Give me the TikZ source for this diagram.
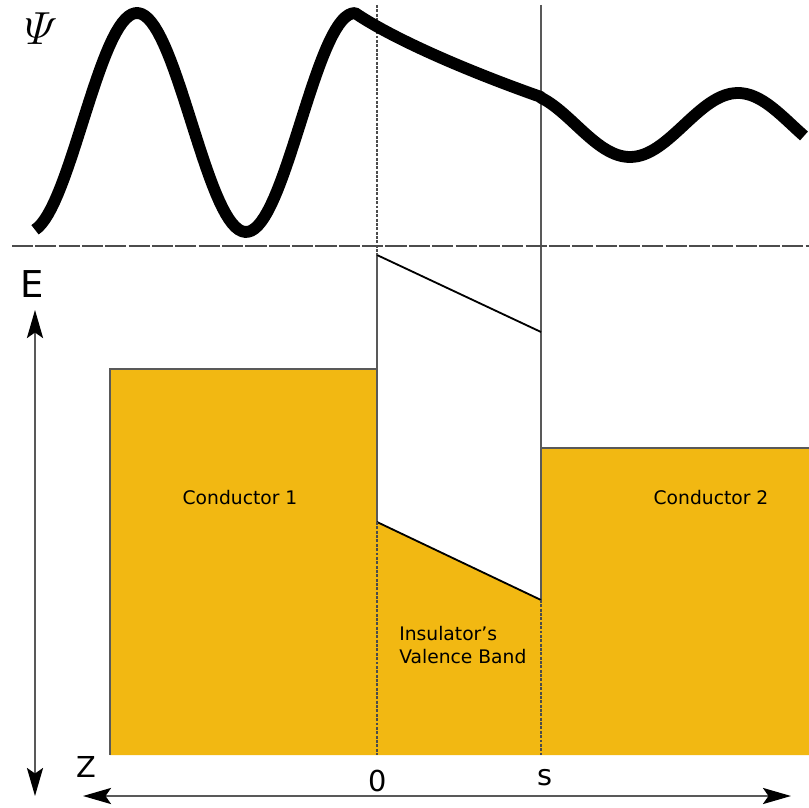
\documentclass[tikz,border=0pt]{standalone}
\usepackage{fix-cm}
\usepackage[no-math]{fontspec}
\usepackage{amsmath}
\setmainfont{DejaVu Sans}
\usetikzlibrary{arrows.meta}
\definecolor{bandyellow}{HTML}{F2B812}
\definecolor{edgegray}{HTML}{595959}

\begin{document}
\begin{tikzpicture}[x=0.025cm, y=-0.025cm,
    lbl/.style={font=\fontsize{13.3}{16.4}\selectfont, inner sep=0pt},
    axl/.style={font=\fontsize{20.5}{24}\selectfont, inner sep=0pt},
    edge/.style={draw=edgegray, line width=1.1pt},
    slant/.style={draw=black, line width=1.3pt},
    dots/.style={draw=black!70, line width=0.9pt, dash pattern=on 2.1pt off 1pt},
    base/.style={draw=black!70, line width=1.1pt, dash pattern=on 15pt off 1.6pt},
    axis/.style={draw=edgegray, line width=1.1pt,
      {Stealth[length=20pt,width=11.5pt,inset=4pt,color=black]}-{Stealth[length=20pt,width=11.5pt,inset=4pt,color=black]}},
    wave/.style={draw=black, line width=8.4pt, line join=round}]
  \useasboundingbox (0,0) rectangle (809,808);
  \coordinate (c1tl) at (110,369); \coordinate (c1tr) at (377,369); \coordinate (c1bl) at (110,755);
  \coordinate (b0t) at (377,255); \coordinate (bst) at (541,332);
  \coordinate (b0b) at (377,522); \coordinate (bsb) at (541,600);
  \coordinate (c2tl) at (541,448); \coordinate (c2tr) at (809,448);
  \coordinate (z0top) at (377,5); \coordinate (zstop) at (541,5);
  \coordinate (z0bot) at (377,755); \coordinate (zsbot) at (541,755);
  \coordinate (bl) at (12,246); \coordinate (br) at (809,246);
  \coordinate (etop) at (35,310); \coordinate (ebot) at (35,796);
  \coordinate (zleft) at (83,796); \coordinate (zright) at (791,796);

  \fill[bandyellow] (c1bl) -- (c1tl) -- (c1tr) -- (b0b) -- (bsb) -- (c2tl) -- (c2tr) -- (809,755) -- cycle;
  \draw[edge] (c1bl) -- (c1tl) -- (c1tr);
  \draw[edge] (c2tl) -- (c2tr);
  \draw[edge] (b0t) -- (b0b);
  \draw[edge] (zstop) -- (bsb);
  \draw[slant] (b0t) -- (bst);
  \draw[slant] (b0b) -- (bsb);
  \draw[dots] (z0top) -- (b0t);
  \draw[dots] (b0b) -- (z0bot);
  \draw[dots] (bsb) -- (zsbot);
  \draw[base] (bl) -- (br);

  \draw[wave] plot[domain=35:355, samples=100] (\x, {122.5-109.5*cos((\x-137)/218*360)})
    .. controls (395,40) and (470,72) .. (541,97)
    -- plot[domain=541:804, samples=80] (\x, {125+32*cos((\x-630)/216*360)});

  \draw[axis] (ebot) -- (etop);
  \draw[axis] (zleft) -- (zright);

  \node[inner sep=0pt, font=\fontsize{33}{36}\selectfont] (psi) at (41,29) {$\varPsi$};
  \node[axl, font=\fontsize{26.3}{30}\selectfont] (elab) at (32,284) {E};
  \node[axl] (zlab) at (86,767) {Z};
  \node[axl] (zero) at (378,781) {0};
  \node[axl] (slab) at (545,778) {s};
  \node[lbl] (cond1) at (240,498) {Conductor 1};
  \node[lbl] (cond2) at (711,498) {Conductor 2};
  \node[lbl, align=left, anchor=west] (valence) at (399,645) {Insulator’s\\Valence Band};
\end{tikzpicture}
\end{document}
